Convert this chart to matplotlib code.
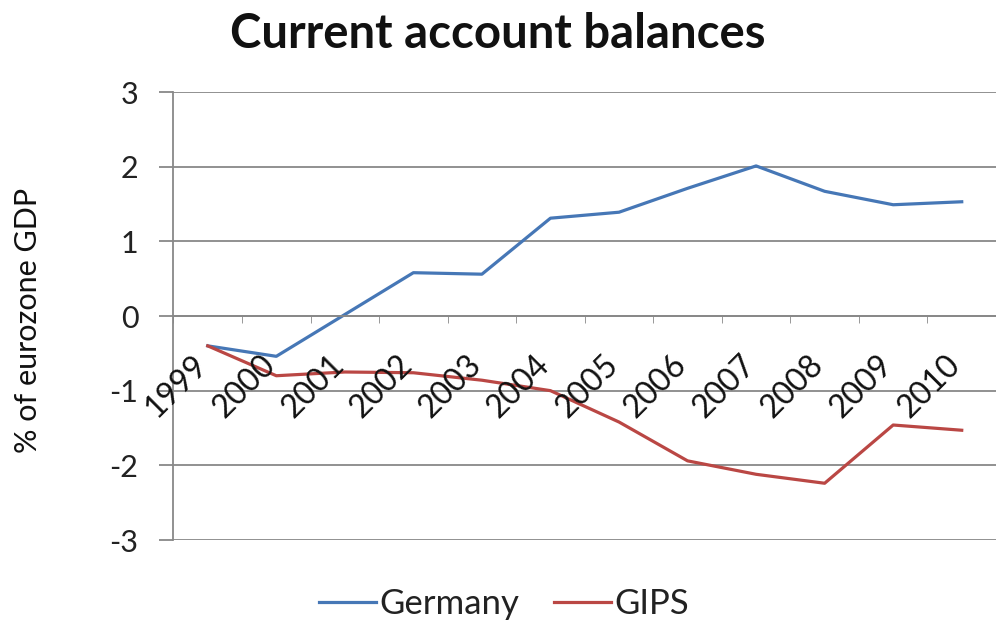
import matplotlib
matplotlib.use("Agg")
import matplotlib.pyplot as plt
import numpy as np

years = ["1999", "2000", "2001", "2002", "2003", "2004", "2005", "2006",
         "2007", "2008", "2009", "2010"]
germany = [-0.40, -0.54, 0.02, 0.58, 0.56, 1.31, 1.39, 1.71, 2.01, 1.67, 1.49, 1.53]
gips = [-0.40, -0.80, -0.75, -0.76, -0.86, -1.00, -1.42, -1.94, -2.12, -2.24, -1.46, -1.53]
yticks = [-3, -2, -1, 0, 1, 2, 3]

FONT = ["Lato", "DejaVu Sans"]
plt.rcParams['font.family'] = FONT

W, H = 996, 624
fig = plt.figure(figsize=(W / 100, H / 100), dpi=100)
left, right, top, bottom = 173, 996, 92, 540
ax = fig.add_axes([left / W, 1 - bottom / H, (right - left) / W, (bottom - top) / H])

x = np.arange(len(years))
ax.plot(x, germany, color="#4677B6", lw=2.3, label="Germany", solid_joinstyle="round")
ax.plot(x, gips, color="#BA4744", lw=2.3, label="GIPS", solid_joinstyle="round")

ax.set_ylim(-3, 3)
ax.set_xlim(-0.507, 11.42)
ax.set_yticks(yticks)
ax.set_yticklabels([str(v) for v in yticks], fontsize=22, color="#222222")
ax.yaxis.grid(True, color="#888888", lw=1.3)
ax.set_axisbelow(True)
ax.tick_params(axis='y', length=10, width=1.3, color="#888888", pad=15)

for s in ["top", "right"]:
    ax.spines[s].set_visible(False)
ax.spines["left"].set_color("#888888")
ax.spines["left"].set_linewidth(1.3)
ax.spines["bottom"].set_position(("data", 0))
ax.spines["bottom"].set_color("#888888")
ax.spines["bottom"].set_linewidth(1.3)

ax.set_xticks(x)
ax.set_xticklabels([])
ax.tick_params(axis='x', which='major', length=0)
ax.set_xticks(np.arange(len(years) + 1) - 0.5, minor=True)
ax.tick_params(axis='x', which='minor', length=5, direction='out', color="#888888")

for xi, lab in zip(x, years):
    ax.annotate(lab, xy=(xi, 0), xycoords='data', xytext=(3.6, -24),
                textcoords='offset points', rotation=45, ha='right', va='top',
                fontsize=23, color="#111111")

fig.text(498 / W, 1 - 34 / H, "Current account balances", ha='center', va='center',
         fontsize=34, fontweight='bold', color="#111111")
fig.text(28 / W, 1 - 320 / H, "% of eurozone GDP", rotation=90, ha='center', va='center',
         fontsize=22, color="#111111")

leg = fig.legend(loc='center', bbox_to_anchor=(504 / W, 1 - 604 / H), ncol=2, frameon=False,
                 fontsize=25, handlelength=1.65, handletextpad=0.1, columnspacing=1.0)
for t in leg.get_texts():
    t.set_color("#222222")

fig.savefig("out.png", dpi=100)
